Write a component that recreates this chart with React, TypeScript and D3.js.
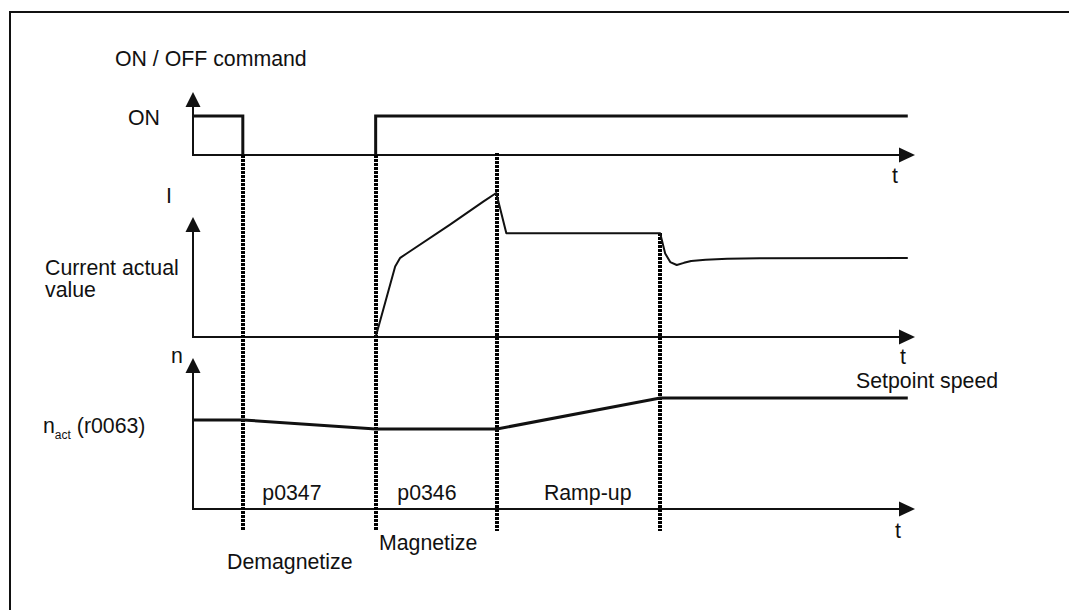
import React from "react";
import * as d3 from "d3";

// ---- data (time in arbitrary units, values normalised) ----
const events = { off: 0.69, on: 2.53, magEnd: 4.21, rampEnd: 6.47 };

// ON / OFF command pulses (t, state)
const onPulse1: [number, number][] = [[0, 1], [0.69, 1], [0.69, 0]];
const onPulse2: [number, number][] = [[2.53, 0], [2.53, 1], [9.9, 1]];

// current actual value (t, I)
const currentT = [2.53, 2.8, 2.87, 2.96, 3.56, 4.02, 4.2, 4.34, 6.47, 6.54, 6.61, 6.7, 6.8, 6.9, 7.1, 7.4, 7.85, 9.9];
const currentI = [0, 0.49, 0.55, 0.58, 0.78, 0.94, 1.0, 0.72, 0.72, 0.58, 0.52, 0.5, 0.515, 0.528, 0.537, 0.543, 0.547, 0.549];

// speed (t, n)
const speedT = [0, 0.69, 2.53, 4.21, 6.47, 9.9];
const speedN = [0.59, 0.59, 0.53, 0.53, 0.735, 0.735];

const phaseLabels = ["p0347", "p0346", "Ramp-up"];
const phaseStarts = [0.69, 2.53, 4.21];
const phaseOffsets = [0.27, 0.3, 0.65];

const FONT = "'Liberation Sans', Arial, Helvetica, sans-serif";

export default function App() {
  const x = d3.scaleLinear().domain([0, 10]).range([193, 915]);
  const yOn = d3.scaleLinear().domain([0, 1]).range([155, 116]);
  const yI = d3.scaleLinear().domain([0, 1]).range([337, 193]);
  const yN = d3.scaleLinear().domain([0, 1]).range([509, 358]);

  const axisX0 = x(0);
  const axisX1 = x(10);

  const lineOn = d3.line<[number, number]>().x((d) => x(d[0])).y((d) => yOn(d[1]));
  const currentData: [number, number][] = currentT.map((t, i) => [t, currentI[i]]);
  const lineI = d3.line<[number, number]>().x((d) => x(d[0])).y((d) => yI(d[1]));
  const speedData: [number, number][] = speedT.map((t, i) => [t, speedN[i]]);
  const lineN = d3.line<[number, number]>().x((d) => x(d[0])).y((d) => yN(d[1]));

  const hArrow = (y: number) =>
    `M${axisX1},${y} L${axisX1 - 16},${y - 7.5} L${axisX1 - 16},${y + 7.5} Z`;
  const vArrow = (yTip: number) =>
    `M${axisX0},${yTip} L${axisX0 - 7.5},${yTip + 15} L${axisX0 + 7.5},${yTip + 15} Z`;

  const panels = [
    { y0: yOn(0), tip: 92 },
    { y0: yI(0), tip: 217 },
    { y0: yN(0), tip: 358 },
  ];

  const dotBottom = yN(0) + 22;
  const dotted = [
    { t: events.off, top: yOn(0) },
    { t: events.on, top: yOn(0) },
    { t: events.magEnd, top: yOn(0) - 2 },
    { t: events.rampEnd, top: yI(0.72) },
  ];

  const txt = { fontFamily: FONT, fontSize: 21.3, fill: "#111" } as const;

  return (
    <svg
      width={1069}
      height={610}
      style={{ position: "absolute", left: 0, top: 0, background: "#fff" }}
    >
      <rect x={0} y={0} width={1069} height={610} fill="#fff" />
      {/* frame */}
      <path d="M10,612 V12 H1071" fill="none" stroke="#111" strokeWidth={2} />

      {/* axes */}
      {panels.map((p, i) => (
        <g key={i}>
          <line x1={axisX0} y1={p.y0} x2={axisX1 - 4} y2={p.y0} stroke="#111" strokeWidth={2} />
          <path d={hArrow(p.y0)} fill="#111" />
          <line x1={axisX0} y1={p.y0 + 1} x2={axisX0} y2={p.tip + 4} stroke="#111" strokeWidth={2} />
          <path d={vArrow(p.tip)} fill="#111" />
        </g>
      ))}

      {/* dotted event lines */}
      {dotted.map((d, i) => {
        const xp = Math.round(x(d.t));
        return (
          <line
            key={i}
            x1={xp}
            x2={xp}
            y1={d.top}
            y2={dotBottom}
            stroke="#000"
            strokeWidth={4}
            strokeDasharray="3 1"
            shapeRendering="crispEdges"
          />
        );
      })}

      {/* ON/OFF signal */}
      <path d={lineOn(onPulse1) || ""} fill="none" stroke="#111" strokeWidth={3} />
      <path d={lineOn(onPulse2) || ""} fill="none" stroke="#111" strokeWidth={3} />

      {/* current */}
      <path d={lineI(currentData) || ""} fill="none" stroke="#111" strokeWidth={2} strokeLinejoin="round" />

      {/* speed */}
      <path d={lineN(speedData) || ""} fill="none" stroke="#111" strokeWidth={3} />

      {/* texts */}
      <text x={115} y={66} {...txt}>ON / OFF command</text>
      <text x={128} y={125} {...txt}>ON</text>
      <text x={892} y={183} {...txt}>t</text>
      <text x={166} y={203} {...txt}>I</text>
      <text x={45} y={275} {...txt}>Current actual</text>
      <text x={45} y={297} {...txt}>value</text>
      <text x={900} y={364} {...txt}>t</text>
      <text x={171} y={363} {...txt}>n</text>
      <text x={43} y={433} {...txt}>
        n
        <tspan fontSize={12} dy={6}>act</tspan>
        <tspan dy={-6}> (r0063)</tspan>
      </text>
      <text x={856} y={388} {...txt}>Setpoint speed</text>
      {phaseLabels.map((l, i) => (
        <text key={l} x={x(phaseStarts[i] + phaseOffsets[i])} y={500} {...txt}>
          {l}
        </text>
      ))}
      <text x={895} y={538} {...txt}>t</text>
      <text x={379} y={550} {...txt}>Magnetize</text>
      <text x={227} y={569} {...txt}>Demagnetize</text>
    </svg>
  );
}
